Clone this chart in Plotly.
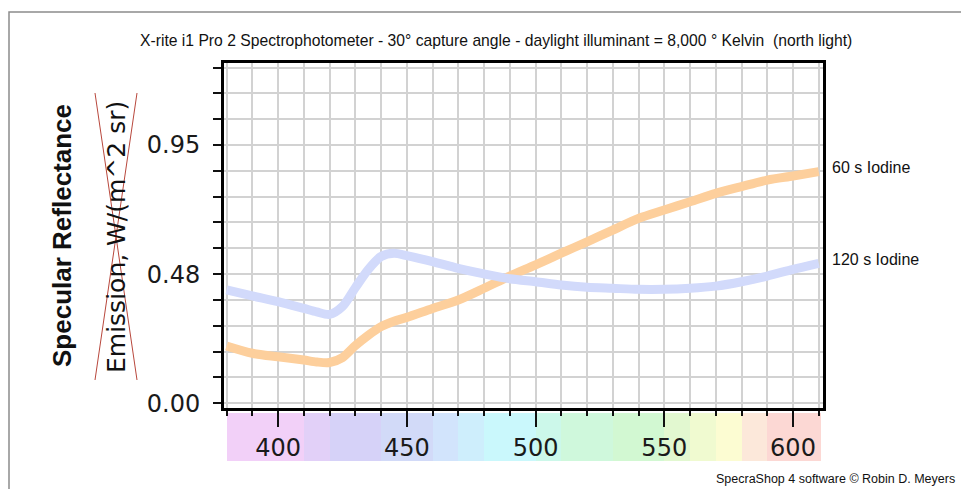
import plotly.graph_objects as go

# ---- data ----
wavelengths = [380, 390, 400, 410, 415, 420, 425, 430, 435, 440, 445, 450, 460, 470, 480, 490,
               500, 510, 520, 530, 540, 550, 560, 570, 580, 590, 600, 610]

iodine_60s = [0.211, 0.184, 0.171, 0.159, 0.152, 0.150, 0.168, 0.212, 0.250, 0.282, 0.302, 0.316,
              0.349, 0.380, 0.423, 0.468, 0.509, 0.552, 0.594, 0.637, 0.680, 0.711, 0.741, 0.772,
              0.797, 0.821, 0.836, 0.852]

iodine_120s = [0.417, 0.395, 0.374, 0.349, 0.336, 0.327, 0.356, 0.425, 0.492, 0.540, 0.552, 0.543,
               0.521, 0.496, 0.476, 0.458, 0.447, 0.435, 0.427, 0.423, 0.419, 0.419, 0.423, 0.431,
               0.447, 0.468, 0.493, 0.515]

series_names = ["60 s Iodine", "120 s Iodine"]
series_colors = ["#fdcf9c", "#d2dafb"]

y_tickvals = [0.0, 0.475, 0.95]
y_ticktext = ["0.00", "0.48", "0.95"]
x_tickvals = [400, 450, 500, 550, 600]

# pastel spectrum strip under the wavelength axis
band_edges = [380, 410, 420, 440, 460, 470, 480, 500, 510, 530, 550, 560, 570, 580, 590, 611]
band_colors = ['#f2d0f8', '#e2d0f8', '#d6d2f8', '#d2daf8', '#d2e4fc', '#ceeefc', '#caf8fc',
               '#ccf8ea', '#cff8dc', '#d2f8d2', '#e2f8d0', '#f0fad0', '#fcfcd2', '#fce8da', '#fcd8d4']

title_text = ("X-rite i1 Pro 2 Spectrophotometer - 30° capture angle - daylight illuminant = "
              "8,000 ° Kelvin  (north light)")

W, H = 961, 489
X_RANGE = [379.0, 611.65]
Y_RANGE = [-0.0173, 1.2516]


def px(x):
    return x / W


def py(y):
    return 1 - y / H


fig = go.Figure()

# spectrum strip (drawn first so the wavelength ticks sit on top)
band_centers = [(a + b) / 2 for a, b in zip(band_edges[:-1], band_edges[1:])]
band_widths = [b - a for a, b in zip(band_edges[:-1], band_edges[1:])]
fig.add_trace(go.Bar(
    x=band_centers, y=[1] * len(band_centers), width=band_widths, base=0,
    marker=dict(color=band_colors, line=dict(width=0)),
    xaxis='x', yaxis='y', showlegend=False, hoverinfo='skip'
))

for name, vals, color in zip(series_names, [iodine_60s, iodine_120s], series_colors):
    fig.add_trace(go.Scatter(
        x=wavelengths, y=vals, mode='lines', name=name,
        line=dict(color=color, width=9, shape='spline', smoothing=0.8),
        xaxis='x2', yaxis='y2', showlegend=False
    ))
    fig.add_annotation(
        x=wavelengths[-1], y=vals[-1], xref='x2', yref='y2',
        text=name, showarrow=False, xanchor='left', yanchor='middle',
        xshift=11, yshift=4,
        font=dict(family='Liberation Sans, Arial', size=16, color='#111111')
    )

grid = dict(showgrid=True, gridcolor='#d2d2d2', gridwidth=2)
tick_font = dict(family='DejaVu Sans', size=24, color='#1a1a1a')

fig.update_layout(
    width=W, height=H,
    margin=dict(l=0, r=0, t=0, b=0),
    paper_bgcolor='white', plot_bgcolor='white',
    bargap=0, showlegend=False,
    xaxis=dict(domain=[px(224), px(823)], range=X_RANGE, visible=False, fixedrange=True),
    yaxis=dict(domain=[py(461), py(413)], range=[0, 1], visible=False, fixedrange=True),
    xaxis2=dict(
        domain=[px(224), px(823)], range=X_RANGE, anchor='y2',
        showline=True, linecolor='black', linewidth=3, mirror=True,
        tickmode='array', tickvals=x_tickvals, ticks='outside', ticklen=16, tickwidth=2,
        tickcolor='#111111', ticklabelstandoff=0, tickfont=tick_font,
        minor=dict(tick0=380, dtick=10, ticks='outside', ticklen=5, tickwidth=2,
                   tickcolor='#111111', **grid),
        zeroline=False, automargin=False, **grid
    ),
    yaxis2=dict(
        domain=[py(408), py(63)], range=Y_RANGE, anchor='x2',
        showline=True, linecolor='black', linewidth=3, mirror=True,
        tickmode='array', tickvals=y_tickvals, ticktext=y_ticktext,
        ticks='outside', ticklen=8, tickwidth=2, tickcolor='#111111', ticklabelstandoff=8,
        tickfont=tick_font,
        minor=dict(tick0=0, dtick=0.095, ticks='outside', ticklen=8, tickwidth=2,
                   tickcolor='#111111', **grid),
        zeroline=False, automargin=False, **grid
    ),
)

# chart title
fig.add_annotation(
    x=px(496), y=py(40), xref='paper', yref='paper', text=title_text,
    showarrow=False, xanchor='center', yanchor='middle',
    font=dict(family='Liberation Sans, Arial', size=15.7, color='#111111')
)

# axis titles: the real one and the crossed-out one
fig.add_annotation(
    x=px(62), y=py(236), xref='paper', yref='paper', text='<b>Specular Reflectance</b>',
    showarrow=False, textangle=-90, xanchor='center', yanchor='middle',
    font=dict(family='Liberation Sans, Arial', size=26, color='#111111')
)
fig.add_annotation(
    x=px(116), y=py(237), xref='paper', yref='paper', text='Emission, W/(m^2 sr)',
    showarrow=False, textangle=-90, xanchor='center', yanchor='middle',
    font=dict(family='DejaVu Sans', size=25, color='#111111')
)
for x0, x1 in [(95, 137), (137, 95)]:
    fig.add_shape(type='line', xref='paper', yref='paper',
                  x0=px(x0), y0=py(93), x1=px(x1), y1=py(380),
                  line=dict(color='#b8473c', width=1))

# footer
fig.add_annotation(
    x=px(957), y=py(479), xref='paper', yref='paper',
    text='SpecraShop 4 software © Robin D. Meyers',
    showarrow=False, xanchor='right', yanchor='middle',
    font=dict(family='Liberation Sans, Arial', size=12.5, color='#111111')
)

# outer grey border of the original image
fig.add_shape(type='rect', xref='paper', yref='paper',
              x0=px(9), y0=py(12), x1=1.05, y1=-0.05,
              line=dict(color='#8c8c8c', width=1.5), layer='below')

# page body has a default 8px margin; drop it so the figure sits at the corner
fig.write_html("out.html", config={'displayModeBar': False},
               post_script="document.body.style.margin='0px';")
